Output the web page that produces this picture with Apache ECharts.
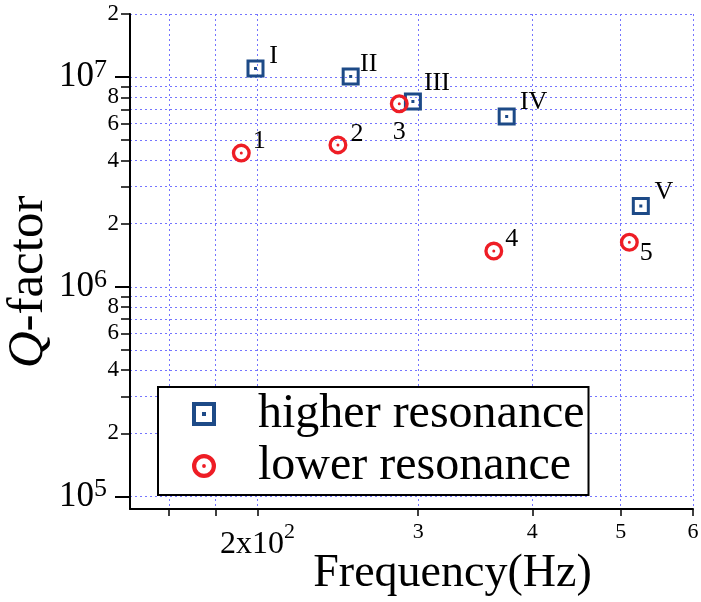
<!DOCTYPE html>
<html><head><meta charset="utf-8">
<script src="https://cdn.jsdelivr.net/npm/echarts@6/dist/echarts.min.js"></script>
<style>html,body{margin:0;padding:0;background:#fff}#c{width:701px;height:602px}</style>
</head><body><div id="c"></div>
<script>
// ---- data ----
const higherNames = ['I', 'II', 'III', 'IV', 'V'];
const higherFreq = [199, 253, 296, 375, 526];
const higherQ = [1.10e7, 1.007e7, 7.64e6, 6.48e6, 2.43e6];
const lowerNames = ['1', '2', '3', '4', '5'];
const lowerFreq = [192, 245, 286, 363, 511];
const lowerQ = [4.34e6, 4.75e6, 7.46e6, 1.48e6, 1.63e6];
const xTickValues = [160, 180, 200, 300, 400, 500, 600];
const xLabelValues = [200, 300, 400, 500, 600];
const yMinorTickValues = [1e5, 2e5, 3e5, 4e5, 5e5, 6e5, 7e5, 8e5, 9e5,
  1e6, 2e6, 3e6, 4e6, 5e6, 6e6, 7e6, 8e6, 9e6, 1e7, 2e7];
const yMinorLabelValues = [2e5, 4e5, 6e5, 8e5, 2e6, 4e6, 6e6, 8e6, 2e7];
const yMajorValues = [1e5, 1e6, 1e7];

// ---- styles ----
const FONT = 'Liberation Serif';
const BLUE = '#1d4a87';
const RED = '#ee1d25';
const GRIDC = '#7474ff';
const higherLabelOffset = [[18, -12], [18, -12], [24, -18], [27, -14], [23, -14]];
const lowerLabelOffset = [[18, -12], [19, -11], [0, 28], [18, -12], [17, 11]];
const squarePath = 'path://M0,0L24,0L24,24L0,24Z M4,4L4,20L20,20L20,4Z M10,10L14,10L14,14L10,14Z';
const circlePath = 'path://M12,0A12,12 0 1 1 12,24A12,12 0 1 1 12,0Z M12,4.2A7.8,7.8 0 1 0 12,19.8A7.8,7.8 0 1 0 12,4.2Z M12,10.1A1.9,1.9 0 1 1 12,13.9A1.9,1.9 0 1 1 12,10.1Z';

function mkData(fs, qs, names, offs) {
  return fs.map((f, i) => ({
    value: [f, qs[i]], name: names[i],
    label: { offset: offs[i] }
  }));
}
function mant(v) {
  const e = Math.floor(Math.log10(v) + 1e-9);
  return Math.round(v / Math.pow(10, e));
}
const chart = echarts.init(document.getElementById('c'));
const yCommon = { type: 'log', min: 87100, max: 2e7, gridIndex: 0, position: 'left' };
chart.setOption({
  animation: false,
  backgroundColor: '#fff',
  textStyle: { fontFamily: FONT },
  grid: { left: 130, top: 14, right: 8, bottom: 93, containLabel: false, outerBoundsMode: 'none' },
  xAxis: {
    type: 'log', min: 145, max: 600,
    name: 'Frequency(Hz)', nameLocation: 'middle', nameGap: 42, nameMoveOverlap: false,
    nameTextStyle: { fontFamily: FONT, fontSize: 46, color: '#000', lineHeight: 46, padding: [0, 0, 0, 82] },
    axisLine: { show: true, lineStyle: { color: '#000', width: 2 } },
    axisTick: { show: true, length: 7, customValues: xTickValues, lineStyle: { color: '#000', width: 1.5 } },
    axisLabel: {
      customValues: xLabelValues, margin: 12, color: '#000', fontFamily: FONT, fontSize: 22,
      formatter: v => {
        const r = Math.round(v);
        return r === 200 ? '{big|2x10}{sup|2}' : '{n|' + Math.round(r / 100) + '}';
      },
      rich: {
        n: { fontFamily: FONT, fontSize: 22, lineHeight: 22, color: '#000' },
        big: { fontFamily: FONT, fontSize: 32, lineHeight: 48, color: '#000' },
        sup: { fontFamily: FONT, fontSize: 22, lineHeight: 22, verticalAlign: 'top', color: '#000' }
      }
    },
    splitLine: { show: true, lineStyle: { color: GRIDC, width: 1, type: [2, 3] } }
  },
  yAxis: [
    Object.assign({}, yCommon, {
      name: '{q|Q}-factor', nameLocation: 'middle', nameGap: 76, nameMoveOverlap: false,
      nameTextStyle: {
        fontFamily: FONT, fontSize: 51, color: '#000', lineHeight: 51, padding: [0, 41, 0, 0],
        rich: { q: { fontFamily: FONT, fontSize: 51, fontStyle: 'italic', color: '#000', lineHeight: 51 } }
      },
      axisLine: { show: true, lineStyle: { color: '#000', width: 2 } },
      axisTick: { show: true, length: 9, customValues: yMinorTickValues, lineStyle: { color: '#000', width: 1.5 } },
      axisLabel: {
        customValues: yMinorLabelValues, margin: 11, color: '#000', fontFamily: FONT, fontSize: 23,
        formatter: v => '{m|' + mant(v) + '}',
        rich: { m: { fontFamily: FONT, fontSize: 23, color: '#000' } }
      },
      splitLine: { show: true, lineStyle: { color: GRIDC, width: 1, type: [2, 3] } }
    }),
    Object.assign({}, yCommon, {
      axisLine: { show: false },
      axisTick: { show: true, length: 15, customValues: yMajorValues, lineStyle: { color: '#000', width: 2 } },
      axisLabel: {
        customValues: yMajorValues, margin: 23, color: '#000', fontFamily: FONT,
        formatter: v => '{b|10}{s|' + Math.round(Math.log10(v)) + '}',
        rich: {
          b: { fontFamily: FONT, fontSize: 35, lineHeight: 40, color: '#000' },
          s: { fontFamily: FONT, fontSize: 26, lineHeight: 20, verticalAlign: 'top', color: '#000' }
        }
      },
      splitLine: { show: false }
    })
  ],
  legend: {
    orient: 'vertical', left: 158, top: 387,
    padding: [1, 4, 3, 34], itemGap: 0, itemWidth: 24, itemHeight: 24,
    backgroundColor: '#fff', borderColor: '#000', borderWidth: 2, borderRadius: 0,
    textStyle: { fontFamily: FONT, fontSize: 48, lineHeight: 46, color: '#000', padding: [0, 0, 6, 37] },
    data: [
      { name: 'higher resonance', icon: squarePath, itemStyle: { color: BLUE } },
      { name: 'lower resonance', icon: circlePath, itemStyle: { color: RED } }
    ]
  },
  series: [
    {
      name: 'higher resonance', type: 'scatter', xAxisIndex: 0, yAxisIndex: 0,
      symbol: squarePath, symbolSize: 18, itemStyle: { color: BLUE, opacity: 1 },
      label: { show: true, position: 'inside', formatter: p => p.name, fontFamily: FONT, fontSize: 26, color: '#000' },
      data: mkData(higherFreq, higherQ, higherNames, higherLabelOffset)
    },
    {
      name: 'lower resonance', type: 'scatter', xAxisIndex: 0, yAxisIndex: 0,
      symbol: circlePath, symbolSize: 19, itemStyle: { color: RED, opacity: 1 },
      label: { show: true, position: 'inside', formatter: p => p.name, fontFamily: FONT, fontSize: 26, color: '#000' },
      data: mkData(lowerFreq, lowerQ, lowerNames, lowerLabelOffset)
    }
  ]
});
</script></body></html>
